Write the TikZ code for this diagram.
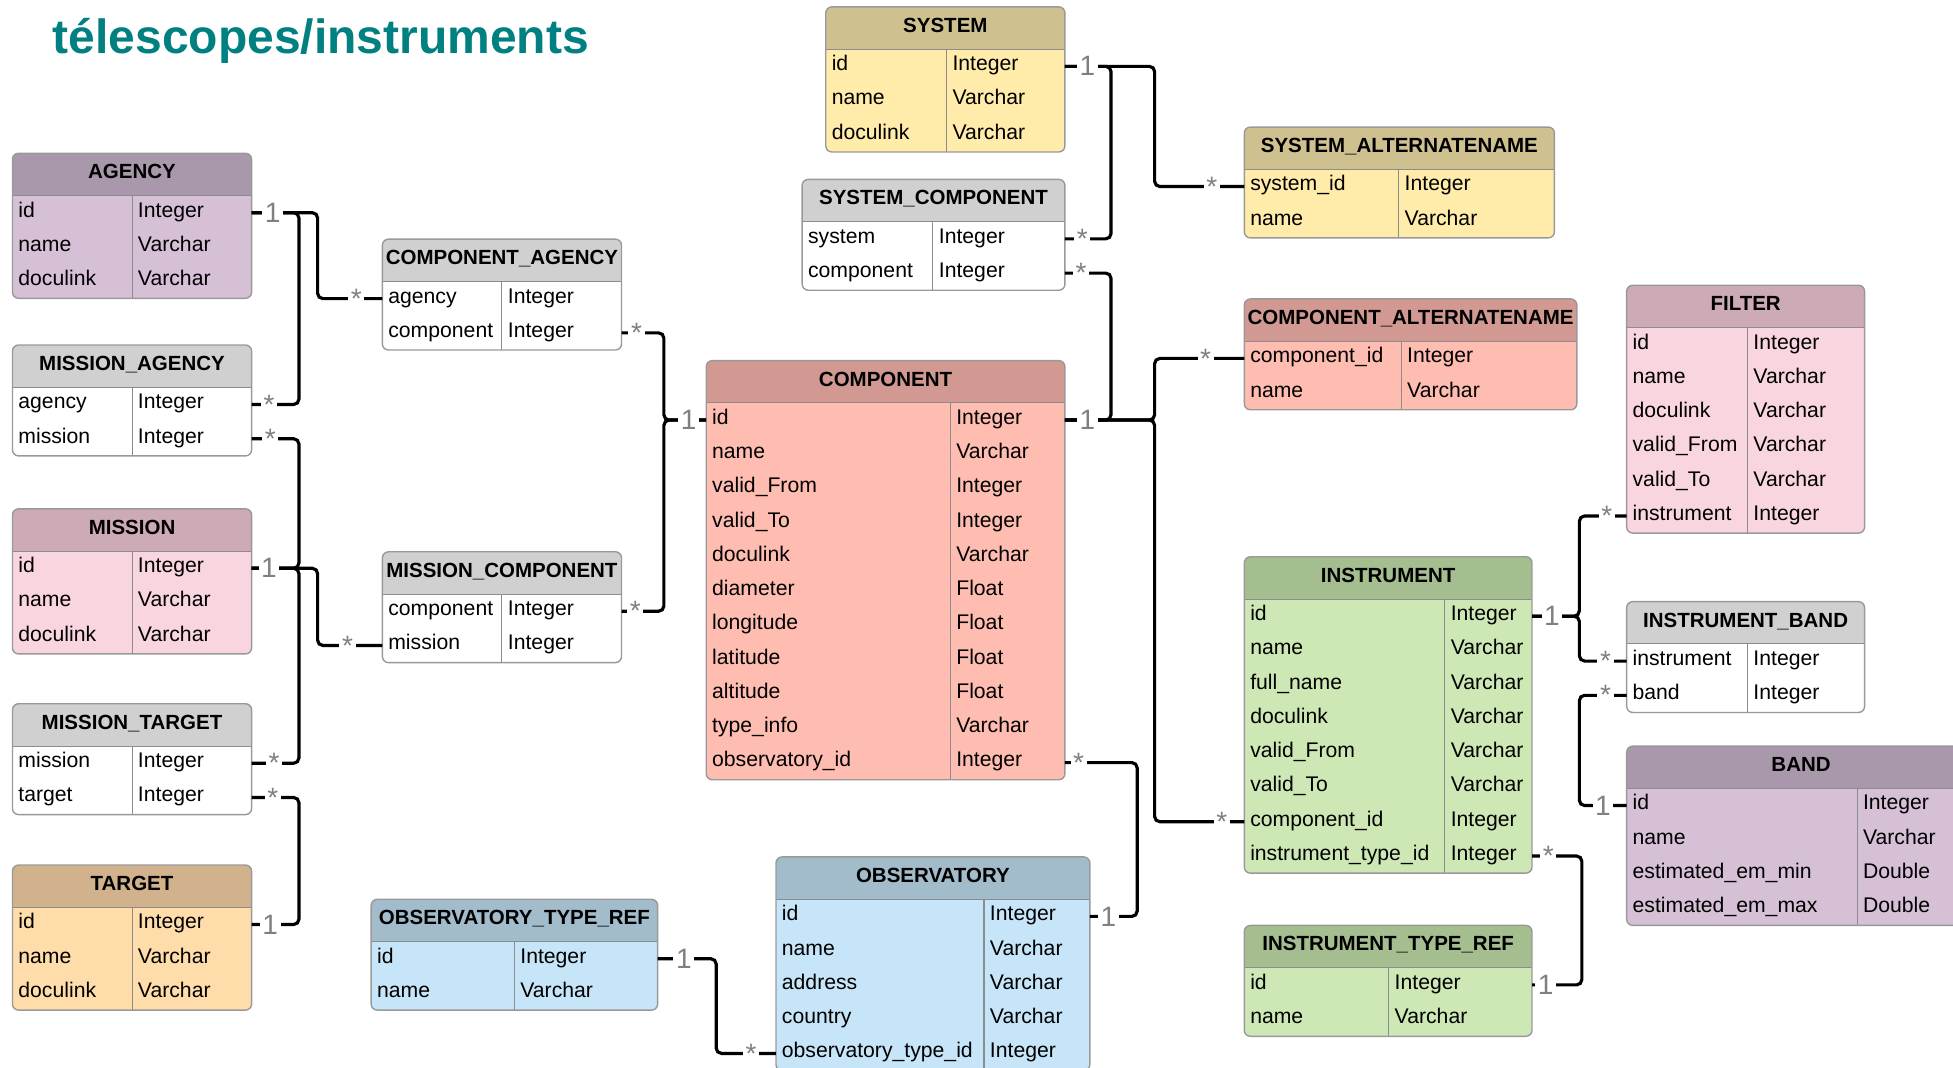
\documentclass[tikz,border=0pt]{standalone}
\usepackage{fontspec}
\setmainfont{Liberation Sans}
\usepackage{xcolor}
\usepackage{tikz}

\newlength{\pxu}
\setlength{\pxu}{0.025cm}

\definecolor{agencyhead}{RGB}{169,152,171}
\definecolor{agencybody}{RGB}{214,192,214}
\definecolor{missionhead}{RGB}{204,170,182}
\definecolor{missionbody}{RGB}{248,213,223}
\definecolor{targethead}{RGB}{209,178,140}
\definecolor{targetbody}{RGB}{255,221,170}
\definecolor{linkhead}{RGB}{208,208,208}
\definecolor{linkbody}{RGB}{255,255,255}
\definecolor{systemhead}{RGB}{207,193,143}
\definecolor{systembody}{RGB}{255,235,170}
\definecolor{componenthead}{RGB}{209,153,145}
\definecolor{componentbody}{RGB}{255,189,178}
\definecolor{instrumenthead}{RGB}{165,190,143}
\definecolor{instrumentbody}{RGB}{205,232,181}
\definecolor{observatoryhead}{RGB}{162,188,203}
\definecolor{observatorybody}{RGB}{199,229,248}
\definecolor{titleteal}{RGB}{0,128,128}

% table: name, left, top, width, split, colour, title, fields, rows
\newcommand{\dbtable}[9]{%
  \begin{scope}
    \clip[rounded corners=3.5pt] (#2,#3) rectangle ({#2+#4},{#3+34+#9*27.5});
    \fill[#6head] (#2,#3) rectangle ({#2+#4},{#3+34});
    \fill[#6body] (#2,{#3+34}) rectangle ({#2+#4},{#3+34+#9*27.5});
  \end{scope}
  \draw[tabline] (#2,{#3+34}) -- ({#2+#4},{#3+34});
  \draw[tabline] ({#2+#5},{#3+34}) -- ({#2+#5},{#3+34+#9*27.5});
  \draw[tabborder, rounded corners=3.5pt] (#2,#3) rectangle ({#2+#4},{#3+34+#9*27.5});
  \node[tabtitle] (#1) at ({#2+#4/2},{#3+17}) {#7};
  \foreach \fname/\ftype [count=\rownum] in {#8} {
    \node[rowbox, minimum width=#4\pxu] (#1-\rownum) at ({#2+#4/2},{#3+34+(\rownum-0.5)*27.5}) {};
    \node[fieldtext] at ({#2+4.5},{#3+34+(\rownum-0.5)*27.5}) {\fname};
    \node[fieldtext] at ({#2+#5+4.5},{#3+34+(\rownum-0.5)*27.5}) {\ftype};
  }
}

% multiplicity label on a connector end
\newcommand{\cardlabel}[3]{\node[mult] at ([xshift=#2\pxu]#1) {#3};}

\begin{document}
\begin{tikzpicture}[x=0.025cm, y=-0.025cm]
    % Define styles
    \tikzstyle{tabtitle} = [font=\bfseries\fontsize{11.7}{13}\selectfont, inner sep=0pt, text height=0.75em, text depth=0.25em]
    \tikzstyle{fieldtext} = [anchor=west, font=\fontsize{12.1}{14}\selectfont, inner sep=0pt, text height=0.75em, text depth=0.25em]
    \tikzstyle{rowbox} = [rectangle, inner sep=0pt, outer sep=0pt, minimum height=27.5\pxu]
    \tikzstyle{tabborder} = [draw=black!40, line width=0.8pt]
    \tikzstyle{tabline} = [draw=black!45, line width=0.6pt]
    \tikzstyle{conn} = [draw=black, line width=1.8pt, rounded corners=3pt]
    \tikzstyle{mult} = [fill=white, text=black!50, font=\fontsize{16}{17}\selectfont, inner xsep=1.5pt, inner ysep=0pt]

    \useasboundingbox (0,0) rectangle (1568,857);
    \clip (0,0) rectangle (1568,857);

    % Title
    \node (title) [anchor=base west, inner sep=0pt, text=titleteal, font=\bfseries\fontsize{27.4}{30}\selectfont] at (42,43) {télescopes/instruments};

    % Left column
    \dbtable{agency}{10}{123}{192}{96}{agency}{AGENCY}{id/Integer, name/Varchar, doculink/Varchar}{3}
    \dbtable{missionagency}{10}{277}{192}{96}{link}{MISSION\_AGENCY}{agency/Integer, mission/Integer}{2}
    \dbtable{mission}{10}{408.5}{192}{96}{mission}{MISSION}{id/Integer, name/Varchar, doculink/Varchar}{3}
    \dbtable{missiontarget}{10}{565}{192}{96}{link}{MISSION\_TARGET}{mission/Integer, target/Integer}{2}
    \dbtable{target}{10}{694.5}{192}{96}{target}{TARGET}{id/Integer, name/Varchar, doculink/Varchar}{3}

    % Link tables towards COMPONENT
    \dbtable{compagency}{307}{192}{192}{96}{link}{COMPONENT\_AGENCY}{agency/Integer, component/Integer}{2}
    \dbtable{missioncomp}{307}{443}{192}{96}{link}{MISSION\_COMPONENT}{component/Integer, mission/Integer}{2}
    \dbtable{obstyperef}{298}{722}{230}{115}{observatory}{OBSERVATORY\_TYPE\_REF}{id/Integer, name/Varchar}{2}

    % Centre
    \dbtable{system}{663}{5.5}{192}{97}{system}{SYSTEM}{id/Integer, name/Varchar, doculink/Varchar}{3}
    \dbtable{systemcomp}{644}{144}{211}{105}{link}{SYSTEM\_COMPONENT}{system/Integer, component/Integer}{2}
    \dbtable{component}{567}{289.5}{288}{196}{component}{COMPONENT}{id/Integer, name/Varchar, valid\_From/Integer, valid\_To/Integer, doculink/Varchar, diameter/Float, longitude/Float, latitude/Float, altitude/Float, type\_info/Varchar, observatory\_id/Integer}{11}
    \dbtable{observatory}{623}{688}{252}{167}{observatory}{OBSERVATORY}{id/Integer, name/Varchar, address/Varchar, country/Varchar, observatory\_type\_id/Integer}{5}

    % Right side
    \dbtable{systemalt}{999}{102}{249}{124}{system}{SYSTEM\_ALTERNATENAME}{system\_id/Integer, name/Varchar}{2}
    \dbtable{compalt}{999}{240}{267}{126}{component}{COMPONENT\_ALTERNATENAME}{component\_id/Integer, name/Varchar}{2}
    \dbtable{instrument}{999}{447}{231}{161}{instrument}{INSTRUMENT}{id/Integer, name/Varchar, full\_name/Varchar, doculink/Varchar, valid\_From/Varchar, valid\_To/Varchar, component\_id/Integer, instrument\_type\_id/Integer}{8}
    \dbtable{insttyperef}{999}{743}{231}{116}{instrument}{INSTRUMENT\_TYPE\_REF}{id/Integer, name/Varchar}{2}
    \dbtable{filter}{1306}{229}{191}{97}{mission}{FILTER}{id/Integer, name/Varchar, doculink/Varchar, valid\_From/Varchar, valid\_To/Varchar, instrument/Integer}{6}
    \dbtable{instrumentband}{1306}{483}{191}{97}{link}{INSTRUMENT\_BAND}{instrument/Integer, band/Integer}{2}
    \dbtable{band}{1306}{599}{280}{185}{agency}{BAND}{id/Integer, name/Varchar, estimated\_em\_min/Double, estimated\_em\_max/Double}{4}

    % Relations
    \draw [conn] (agency-1.east) -- ++(53,0) |- (compagency-1.west);
    \draw [conn] (agency-1.east) -- ++(38,0) |- (missionagency-1.east);
    \draw [conn] (missionagency-2.east) -- ++(38,0) |- (mission-1.east);
    \draw [conn] (missiontarget-1.east) -- ++(38,0) |- (mission-1.east);
    \draw [conn] (mission-1.east) -- ++(53,0) |- (missioncomp-2.west);
    \draw [conn] (missiontarget-2.east) -- ++(38,0) |- (target-1.east);
    \draw [conn] (compagency-2.east) -- ++(34,0) |- (component-1.west);
    \draw [conn] (missioncomp-1.east) -- ++(34,0) |- (component-1.west);
    \draw [conn] (system-1.east) -- ++(72,0) |- (systemalt-1.west);
    \draw [conn] (system-1.east) -- ++(37,0) |- (systemcomp-1.east);
    \draw [conn] (systemcomp-2.east) -- ++(37,0) |- (component-1.east);
    \draw [conn] (component-1.east) -- ++(72,0) |- (compalt-1.west);
    \draw [conn] (component-1.east) -- ++(72,0) |- (instrument-7.west);
    \draw [conn] (component-11.east) -- ++(58,0) |- (observatory-1.east);
    \draw [conn] (obstyperef-1.east) -- ++(47,0) |- (observatory-5.west);
    \draw [conn] (instrument-1.east) -- ++(38,0) |- (filter-6.west);
    \draw [conn] (instrument-1.east) -- ++(38,0) |- (instrumentband-1.west);
    \draw [conn] (instrumentband-2.west) -- ++(-38,0) |- (band-1.west);
    \draw [conn] (instrument-8.east) -- ++(40,0) |- (insttyperef-1.east);

    % Multiplicities
    \cardlabel{agency-1.east}{17}{1}
    \cardlabel{missionagency-1.east}{14}{*}
    \cardlabel{missionagency-2.east}{15}{*}
    \cardlabel{mission-1.east}{14}{1}
    \cardlabel{missiontarget-1.east}{18}{*}
    \cardlabel{missiontarget-2.east}{17}{*}
    \cardlabel{target-1.east}{15}{1}
    \cardlabel{compagency-1.west}{-21}{*}
    \cardlabel{compagency-2.east}{12}{*}
    \cardlabel{missioncomp-1.east}{11}{*}
    \cardlabel{missioncomp-2.west}{-28}{*}
    \cardlabel{component-1.west}{-14}{1}
    \cardlabel{obstyperef-1.east}{21}{1}
    \cardlabel{system-1.east}{18}{1}
    \cardlabel{systemcomp-1.east}{14}{*}
    \cardlabel{systemcomp-2.east}{13}{*}
    \cardlabel{component-1.east}{18}{1}
    \cardlabel{component-11.east}{11}{*}
    \cardlabel{observatory-1.east}{15}{1}
    \cardlabel{observatory-5.west}{-20}{*}
    \cardlabel{systemalt-1.west}{-26}{*}
    \cardlabel{compalt-1.west}{-31}{*}
    \cardlabel{instrument-7.west}{-18}{*}
    \cardlabel{instrument-1.east}{16}{1}
    \cardlabel{instrument-8.east}{13}{*}
    \cardlabel{insttyperef-1.east}{11}{1}
    \cardlabel{filter-6.west}{-16}{*}
    \cardlabel{instrumentband-1.west}{-17}{*}
    \cardlabel{instrumentband-2.west}{-17}{*}
    \cardlabel{band-1.west}{-19}{1}
\end{tikzpicture}
\end{document}
